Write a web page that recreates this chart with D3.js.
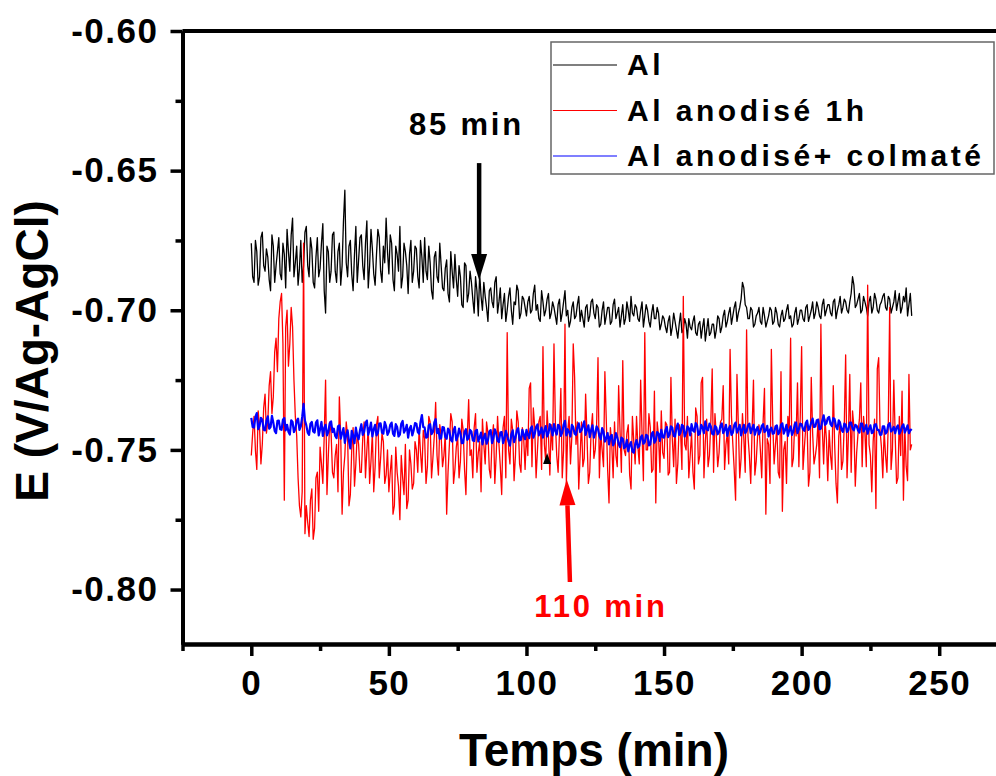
<!DOCTYPE html>
<html>
<head>
<meta charset="utf-8">
<script src="https://cdn.jsdelivr.net/npm/d3@7/dist/d3.min.js"></script>
<style>
  body { margin: 0; background: #fff; }
  svg { display: block; font-family: "Liberation Sans", Arial, sans-serif; font-weight: bold; }
</style>
</head>
<body>
<div id="chart"></div>
<script>
// open circuit potential vs time, values in mV
// *On: samples on the whole minute (0..240), *Half: samples at half minutes (0.5..239.5)
var seriesNames = ["Al", "Al anodisé 1h", "Al anodisé+ colmaté"];
var seriesColors = ["#000000", "#ff0000", "#0000ff"];

var alOn = [
  -676, -690, -679, -688, -672, -686, -681, -693, -677, -684,
  -674, -689, -680, -671, -686, -667, -683, -691, -675, -684,
  -670, -688, -678, -692, -674, -685, -669, -701, -679, -686,
  -672, -690, -676, -684, -657, -688, -675, -693, -670, -682,
  -673, -689, -668, -684, -678, -691, -671, -686, -677, -667,
  -687, -676, -693, -680, -670, -688, -679, -694, -675, -686,
  -678, -692, -681, -674, -689, -683, -696, -679, -690, -684,
  -693, -682, -697, -686, -680, -695, -688, -699, -684, -694,
  -690, -701, -693, -687, -700, -695, -704, -692, -699, -688,
  -697, -703, -694, -700, -692, -705, -698, -693, -701, -696,
  -702, -695, -700, -691, -698, -704, -697, -700, -694, -701,
  -699, -705, -696, -701, -693, -700, -704, -697, -702, -695,
  -700, -706, -698, -702, -696, -703, -699, -705, -697, -702,
  -699, -704, -696, -701, -706, -698, -703, -700, -695, -702,
  -699, -704, -697, -702, -700, -706, -698, -703, -701, -705,
  -703, -708, -702, -706, -704, -710, -701, -707, -705, -703,
  -707, -702, -709, -704, -706, -711, -703, -708, -705, -707,
  -703, -706, -700, -704, -699, -702, -697, -701, -696, -692,
  -699, -703, -700, -705, -701, -704, -699, -706, -702, -700,
  -704, -701, -706, -700, -703, -698, -702, -705, -699, -703,
  -700, -704, -698, -702, -697, -701, -699, -703, -696, -700,
  -698, -702, -696, -700, -695, -699, -697, -701, -694, -691,
  -698, -694, -700, -697, -702, -695, -699, -696, -701, -697,
  -694, -700, -696, -699, -693, -697, -701, -695, -692, -698,
  -702
];
var alHalf = [
  -688, -675, -691, -674, -684, -678, -689, -673, -690, -679,
  -687, -676, -692, -679, -673, -688, -677, -685, -690, -672,
  -684, -674, -690, -681, -688, -676, -693, -677, -690, -673,
  -686, -679, -691, -668, -683, -677, -687, -680, -690, -674,
  -684, -676, -692, -671, -687, -680, -674, -690, -683, -679,
  -673, -689, -677, -686, -692, -676, -684, -680, -690, -677,
  -688, -675, -690, -686, -677, -693, -681, -688, -676, -692,
  -685, -694, -679, -692, -689, -684, -698, -683, -697, -686,
  -696, -688, -702, -695, -690, -699, -693, -697, -690, -701,
  -692, -698, -704, -695, -700, -697, -691, -703, -695, -699,
  -697, -701, -694, -700, -703, -693, -702, -696, -703, -697,
  -702, -698, -704, -697, -702, -706, -699, -703, -698, -704,
  -703, -699, -704, -697, -701, -698, -706, -700, -705, -699,
  -705, -698, -703, -699, -702, -705, -697, -704, -701, -698,
  -703, -700, -706, -698, -704, -701, -703, -699, -707, -702,
  -706, -704, -709, -701, -707, -705, -708, -703, -710, -706,
  -704, -708, -705, -710, -703, -707, -709, -705, -710, -702,
  -708, -702, -706, -701, -705, -699, -704, -699, -690, -698,
  -703, -699, -706, -702, -699, -705, -702, -704, -699, -705,
  -699, -705, -702, -704, -700, -703, -706, -701, -705, -700,
  -703, -699, -704, -700, -703, -697, -702, -698, -702, -698,
  -701, -697, -703, -698, -701, -696, -700, -697, -688, -699,
  -696, -701, -695, -699, -697, -701, -694, -700, -698, -695,
  -699, -695, -701, -697, -700, -694, -699, -697, -702, -694
];

var alAnodiseOn = [
  -752, -738, -757, -742, -748, -730, -740, -722, -731, -710,
  -703, -694, -768, -700, -712, -706, -738, -760, -774, -676,
  -770, -781, -764, -778, -758, -749, -762, -725, -752, -744,
  -760, -748, -731, -773, -752, -745, -766, -742, -755, -748,
  -758, -740, -750, -762, -744, -756, -738, -753, -747, -759,
  -765, -752, -770, -758, -775, -760, -748, -768, -755, -762,
  -750, -742, -758, -746, -756, -740, -753, -733, -759, -745,
  -752, -773, -748, -740, -757, -745, -754, -743, -766, -732,
  -750, -742, -758, -747, -739, -755, -744, -760, -741, -752,
  -748, -766, -738, -708, -755, -743, -752, -740, -758, -746,
  -744, -728, -756, -742, -750, -738, -713, -754, -745, -741,
  -712, -752, -744, -760, -705, -743, -755, -712, -748, -764,
  -740, -753, -745, -758, -737, -750, -717, -744, -756, -739,
  -769, -748, -740, -756, -743, -718, -752, -741, -764, -747,
  -738, -755, -744, -708, -750, -742, -757, -769, -745, -736,
  -753, -741, -758, -746, -739, -755, -743, -695, -750, -760,
  -744, -764, -738, -752, -724, -747, -756, -740, -758, -745,
  -751, -739, -757, -744, -714, -748, -768, -741, -753, -746,
  -707, -752, -743, -759, -745, -750, -740, -773, -748, -714,
  -755, -742, -760, -772, -747, -738, -710, -753, -745, -756,
  -713, -749, -741, -758, -744, -752, -739, -705, -755, -746,
  -743, -757, -748, -769, -740, -754, -716, -745, -758, -742,
  -751, -739, -756, -744, -691, -752, -747, -771, -717, -749,
  -743, -758, -699, -750, -745, -760, -752, -768, -756, -723,
  -748
];
var alAnodiseHalf = [
  -744, -750, -736, -755, -735, -744, -727, -737, -715, -722,
  -697, -712, -706, -720, -699, -725, -745, -770, -765, -780,
  -776, -768, -782, -760, -772, -755, -745, -766, -740, -758,
  -752, -765, -745, -758, -740, -770, -750, -763, -744, -758,
  -746, -760, -742, -754, -765, -741, -760, -744, -762, -750,
  -758, -773, -749, -763, -752, -766, -771, -750, -764, -747,
  -758, -751, -743, -762, -738, -760, -745, -752, -741, -756,
  -744, -758, -737, -762, -749, -760, -739, -757, -745, -752,
  -760, -737, -751, -765, -748, -740, -757, -746, -762, -738,
  -756, -742, -760, -750, -739, -761, -736, -755, -742, -757,
  -752, -726, -735, -760, -740, -757, -748, -736, -759, -750,
  -740, -758, -728, -750, -762, -738, -745, -724, -740, -752,
  -756, -730, -762, -743, -753, -741, -760, -750, -722, -757,
  -742, -760, -752, -727, -758, -750, -744, -759, -738, -755,
  -749, -725, -761, -750, -737, -758, -729, -740, -758, -751,
  -740, -759, -724, -756, -762, -741, -757, -748, -738, -752,
  -758, -735, -755, -726, -760, -739, -752, -721, -737, -756,
  -740, -727, -748, -755, -738, -757, -723, -760, -737, -758,
  -745, -762, -725, -754, -741, -760, -728, -746, -762, -740,
  -748, -758, -722, -750, -762, -743, -756, -740, -726, -738,
  -757, -742, -763, -724, -755, -748, -760, -742, -739, -761,
  -752, -727, -762, -745, -757, -741, -760, -723, -736, -763,
  -744, -726, -738, -756, -748, -765, -739, -721, -743, -760,
  -752, -740, -757, -725, -762, -738, -729, -742, -761, -750
];

var alColmateOn = [
  -738.5, -742.0, -736.8, -741.5, -739.2, -743.0, -738.0, -741.8, -740.2, -744.0,
  -739.5, -742.8, -738.6, -741.0, -744.5, -740.0, -742.5, -738.8, -741.6, -733.5,
  -741.2, -744.6, -740.0, -743.8, -739.4, -742.6, -745.0, -741.0, -743.5, -739.8,
  -742.4, -745.8, -741.2, -744.0, -747.5, -743.0, -749.5, -744.8, -742.0, -746.2,
  -740.8, -743.6, -739.5, -742.8, -745.2, -741.0, -743.9, -740.5, -744.2, -741.6,
  -743.5, -740.2, -745.0, -741.8, -744.5, -739.6, -742.8, -745.6, -741.4, -743.0,
  -740.6, -744.2, -737.5, -742.0, -745.4, -740.8, -743.6, -739.0, -742.5, -745.8,
  -742.0, -746.0, -743.2, -747.0, -741.8, -745.2, -744.0, -747.5, -742.6, -745.8,
  -743.5, -746.8, -742.8, -745.5, -748.0, -744.2, -746.5, -742.9, -745.8, -744.0,
  -747.2, -743.6, -746.0, -744.8, -748.5, -743.0, -745.6, -742.2, -746.4, -744.5,
  -742.8, -745.8, -741.6, -744.2, -740.9, -743.8, -745.6, -741.5, -744.0, -742.4,
  -740.8, -744.5, -741.5, -743.8, -739.6, -742.6, -745.2, -741.8, -744.6, -740.5,
  -743.0, -739.8, -742.8, -745.4, -741.2, -744.0, -742.5, -746.2, -743.5, -745.8,
  -748.0, -744.6, -747.2, -745.5, -749.0, -746.0, -748.8, -750.5, -747.2, -751.0,
  -746.5, -748.6, -744.8, -747.2, -745.0, -748.0, -743.6, -746.5, -744.2, -742.8,
  -745.6, -741.8, -744.5, -742.0, -745.2, -740.6, -743.8, -741.5, -744.0, -742.2,
  -740.8, -743.5, -741.2, -744.2, -742.0, -739.8, -743.0, -741.6, -744.5, -742.0,
  -743.6, -740.5, -742.8, -745.0, -741.4, -743.8, -740.2, -742.6, -744.8, -741.0,
  -743.2, -740.6, -742.4, -744.6, -741.8, -743.5, -740.8, -743.0, -745.2, -742.0,
  -744.0, -741.2, -743.6, -740.5, -742.8, -745.0, -741.6, -743.4, -740.2, -742.6,
  -740.8, -743.2, -739.5, -742.0, -738.8, -741.6, -739.2, -742.4, -737.6, -740.5,
  -738.2, -741.5, -739.0, -742.6, -740.4, -743.5, -741.0, -742.8, -740.2, -743.0,
  -741.4, -743.8, -740.6, -742.5, -744.2, -741.2, -743.6, -740.8, -742.8, -744.5,
  -741.6, -743.5, -740.4, -742.8, -744.0, -741.2, -743.2, -740.9, -742.6, -744.0,
  -742.5
];
var alColmateHalf = [
  -741.8, -738.2, -742.6, -738.5, -742.8, -739.6, -742.4, -737.8, -743.2, -739.6,
  -742.6, -739.2, -743.0, -743.5, -739.4, -743.6, -739.6, -742.8, -738.2, -739.5,
  -743.8, -740.6, -743.4, -740.2, -744.8, -740.0, -742.2, -744.8, -740.4, -743.6,
  -745.0, -741.6, -746.0, -742.2, -744.6, -746.8, -743.2, -747.6, -745.0, -743.0,
  -744.6, -740.4, -744.6, -740.2, -742.6, -744.8, -740.6, -743.8, -740.0, -744.6,
  -741.0, -744.2, -740.8, -745.2, -740.6, -743.8, -741.0, -742.4, -744.8, -740.4,
  -743.6, -740.0, -741.8, -745.6, -741.2, -744.4, -740.2, -744.0, -746.0, -741.8,
  -745.4, -742.4, -746.4, -743.0, -746.6, -742.4, -747.6, -743.6, -746.4, -742.8,
  -746.6, -743.2, -747.0, -743.8, -745.6, -747.8, -743.4, -747.6, -742.6, -746.8,
  -743.8, -747.6, -743.2, -747.0, -744.4, -747.2, -743.0, -746.6, -742.8, -746.2,
  -744.6, -742.4, -745.6, -741.8, -744.8, -742.0, -743.0, -745.2, -740.8, -744.8,
  -743.2, -741.0, -745.0, -741.0, -744.8, -743.6, -741.0, -744.2, -742.0, -743.6,
  -741.4, -744.6, -741.2, -743.0, -745.6, -741.6, -745.0, -742.2, -747.0, -744.0,
  -745.2, -748.4, -744.0, -747.8, -745.6, -749.4, -746.4, -748.2, -750.6, -748.0,
  -749.2, -745.6, -747.8, -744.6, -748.4, -744.2, -747.4, -743.6, -746.8, -745.4,
  -743.0, -745.4, -741.6, -745.0, -742.0, -744.6, -741.0, -745.2, -741.6, -744.8,
  -743.0, -740.4, -744.6, -741.0, -744.0, -742.6, -740.6, -744.2, -741.4, -744.4,
  -741.4, -744.0, -741.0, -742.4, -744.6, -741.2, -743.8, -741.0, -742.6, -744.0,
  -741.2, -744.0, -741.0, -742.8, -744.4, -741.4, -743.6, -741.4, -742.8, -744.2,
  -741.6, -744.4, -741.0, -744.2, -741.0, -743.0, -744.6, -740.8, -744.0, -740.6,
  -742.6, -740.4, -742.8, -740.2, -741.8, -739.4, -742.6, -739.6, -741.0, -738.6,
  -740.8, -738.6, -741.6, -739.4, -742.8, -740.6, -743.6, -740.2, -742.4, -741.0,
  -743.0, -740.6, -743.4, -741.0, -742.4, -744.0, -741.0, -742.8, -744.6, -741.6,
  -744.2, -741.0, -743.4, -741.8, -742.0, -744.2, -741.6, -743.8, -741.2, -743.0
];

var xMajorTicks = [0, 50, 100, 150, 200, 250];
var xMinorTicks = [-25, 25, 75, 125, 175, 225, 275];
var yMajorTicks = [-0.80, -0.75, -0.70, -0.65, -0.60];
var yMinorTicks = [-0.775, -0.725, -0.675, -0.625];

var width = 996, height = 776;

var svg = d3.select("#chart").append("svg")
    .attr("width", width)
    .attr("height", height);

var x = d3.scaleLinear().domain([-25, 275]).range([182.5, 1008]);
var y = d3.scaleLinear().domain([-0.8195, -0.60]).range([644, 31]);

// interleave whole-minute and half-minute samples into {t, v} points
function interleave(on, half) {
  var pts = [];
  for (var i = 0; i < on.length; i++) {
    pts.push({t: i, v: on[i]});
    if (i < half.length) pts.push({t: i + 0.5, v: half[i]});
  }
  return pts;
}

var allSeries = [
  interleave(alOn, alHalf),
  interleave(alAnodiseOn, alAnodiseHalf),
  interleave(alColmateOn, alColmateHalf)
];

var line = d3.line()
    .x(function(d) { return x(d.t); })
    .y(function(d) { return y(d.v / 1000); });

var strokeW = [1.3, 1.3, 2.2];

svg.append("g")
  .selectAll("path")
  .data(allSeries)
  .enter().append("path")
    .attr("d", line)
    .attr("fill", "none")
    .attr("stroke", function(d, i) { return seriesColors[i]; })
    .attr("stroke-width", function(d, i) { return strokeW[i]; })
    .attr("stroke-linejoin", "round");

// axes
var tickFont = function(g) {
  g.selectAll("text")
    .attr("font-size", 35)
    .attr("font-family", "Liberation Sans, Arial, sans-serif")
    .attr("font-weight", "bold")
    .attr("letter-spacing", 1.5)
    .attr("fill", "#000");
  g.selectAll(".tick line").attr("stroke", "#000").attr("stroke-width", 3.5);
  g.select(".domain").attr("stroke", "#000").attr("stroke-width", 4);
};

svg.append("g")
    .attr("transform", "translate(0,644)")
    .call(d3.axisBottom(x).tickValues(xMinorTicks).tickSize(7).tickSizeOuter(0).tickFormat(""))
    .call(tickFont);
svg.append("g")
    .attr("transform", "translate(0,644)")
    .call(d3.axisBottom(x).tickValues(xMajorTicks).tickSize(12).tickSizeOuter(0).tickPadding(14)
      .tickFormat(function(d) { return d; }))
    .call(tickFont);

svg.append("g")
    .attr("transform", "translate(182.5,0)")
    .call(d3.axisLeft(y).tickValues(yMinorTicks).tickSize(7).tickSizeOuter(0).tickFormat(""))
    .call(tickFont);
svg.append("g")
    .attr("transform", "translate(182.5,0)")
    .call(d3.axisLeft(y).tickValues(yMajorTicks).tickSize(12).tickSizeOuter(0).tickPadding(12)
      .tickFormat(function(d) { return d.toFixed(2); }))
    .call(tickFont);

// top and right frame
svg.append("line")
    .attr("x1", x(-25)).attr("x2", x(275))
    .attr("y1", y(-0.60)).attr("y2", y(-0.60))
    .attr("stroke", "#000").attr("stroke-width", 4);
svg.append("line")
    .attr("x1", x(275)).attr("x2", x(275))
    .attr("y1", y(-0.60)).attr("y2", 644)
    .attr("stroke", "#000").attr("stroke-width", 4);

// axis titles
svg.append("text")
    .attr("x", 594).attr("y", 766)
    .attr("text-anchor", "middle")
    .attr("font-size", 46)
    .text("Temps (min)");
svg.append("text")
    .attr("transform", "translate(48,351) rotate(-90)")
    .attr("text-anchor", "middle")
    .attr("font-size", 46)
    .text("E (V/Ag-AgCl)");

// legend
var legend = svg.append("g");
legend.append("rect")
    .attr("x", 551).attr("y", 42)
    .attr("width", 443).attr("height", 132)
    .attr("fill", "#fff")
    .attr("stroke", "#666").attr("stroke-width", 1.5);
var item = legend.selectAll(".item")
  .data(seriesNames)
  .enter().append("g")
    .attr("class", "item")
    .attr("transform", function(d, i) { return "translate(0," + (65 + i * 45.5) + ")"; });
item.append("line")
    .attr("x1", 553).attr("x2", 617)
    .attr("stroke", function(d, i) { return seriesColors[i]; })
    .attr("stroke-width", 1.2);
item.append("text")
    .attr("x", 627).attr("y", 10)
    .attr("font-size", 30)
    .attr("letter-spacing", 3.5)
    .text(function(d) { return d; });

// annotations (data coordinates)
function arrow(t0, v0, t1, v1, color) {
  var x0 = x(t0), y0 = y(v0), x1 = x(t1), y1 = y(v1);
  var dx = x1 - x0, dy = y1 - y0, len = Math.sqrt(dx * dx + dy * dy);
  var ux = dx / len, uy = dy / len, headLen = 26, headW = 8;
  var bx = x1 - ux * headLen, by = y1 - uy * headLen;
  svg.append("line")
      .attr("x1", x0).attr("y1", y0).attr("x2", bx).attr("y2", by)
      .attr("stroke", color).attr("stroke-width", 4.5);
  svg.append("path")
      .attr("d", "M" + x1 + "," + y1 +
                 "L" + (bx - uy * headW) + "," + (by + ux * headW) +
                 "L" + (bx + uy * headW) + "," + (by - ux * headW) + "Z")
      .attr("fill", color);
}

arrow(82.8, -0.6473, 82.8, -0.6892, "#000");
svg.append("text")
    .attr("x", x(78.2)).attr("y", y(-0.6372))
    .attr("text-anchor", "middle")
    .attr("font-size", 31).attr("letter-spacing", 2.8)
    .attr("fill", "#000")
    .text("85 min");

arrow(115.8, -0.7973, 114.6, -0.7605, "#ff0000");
svg.append("text")
    .attr("x", x(127.1)).attr("y", y(-0.8098))
    .attr("text-anchor", "middle")
    .attr("font-size", 31).attr("letter-spacing", 2.8)
    .attr("fill", "#ff0000")
    .text("110 min");

// small black marker near 107 min
var mx = x(107.5), my = y(-0.754);
svg.append("path")
    .attr("d", "M" + mx + "," + (my - 8) + "L" + (mx - 4) + "," + (my + 3) + "L" + (mx + 4) + "," + (my + 3) + "Z")
    .attr("fill", "#000");
</script>
</body>
</html>
